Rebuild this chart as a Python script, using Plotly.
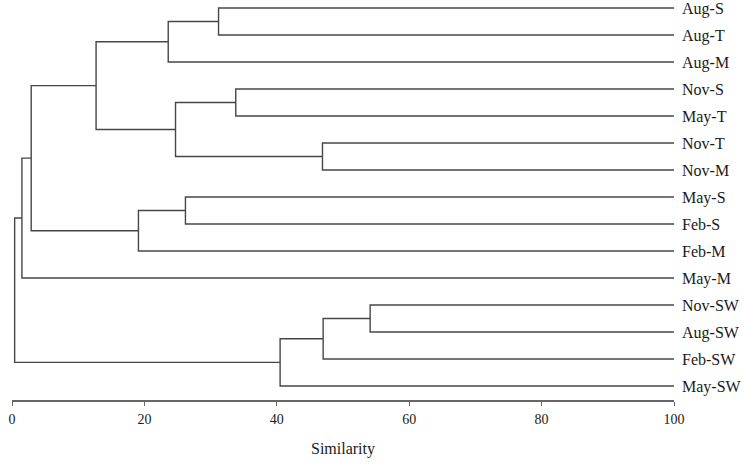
import plotly.graph_objects as go

# leaf order top to bottom
leaves = ["Aug-S", "Aug-T", "Aug-M", "Nov-S", "May-T", "Nov-T", "Nov-M",
          "May-S", "Feb-S", "Feb-M", "May-M", "Nov-SW", "Aug-SW", "Feb-SW", "May-SW"]

# merges: (left, right, similarity); clusters named C1, C2, ...
merge_left = ["Nov-SW", "Nov-T", "C1", "C3", "Nov-S", "Aug-S", "May-S",
              "C5", "C6", "C7", "C9", "C11", "C12", "C13"]
merge_right = ["Aug-SW", "Nov-M", "Feb-SW", "May-SW", "May-T", "Aug-T", "Feb-S",
               "C2", "Aug-M", "Feb-M", "C8", "C10", "May-M", "C4"]
merge_sim = [54.1, 46.9, 47.0, 40.5, 33.8, 31.2, 26.2,
             24.7, 23.6, 19.1, 12.7, 2.9, 1.5, 0.4]

x_ticks = [0, 20, 40, 60, 80, 100]

# node positions: leaves sit at similarity 100
pos = {name: (100, i) for i, name in enumerate(leaves)}
xs, ys = [], []
for k, (a, b, s) in enumerate(zip(merge_left, merge_right, merge_sim), start=1):
    xa, ya = pos[a]
    xb, yb = pos[b]
    xs += [xa, s, s, xb, None]
    ys += [ya, ya, yb, yb, None]
    pos["C%d" % k] = (s, (ya + yb) / 2)

fig = go.Figure()
fig.add_trace(go.Scatter(
    x=xs, y=ys, mode="lines",
    line=dict(color="#474747", width=1.4),
    hoverinfo="skip", showlegend=False, cliponaxis=False
))

font = "Liberation Serif, Times New Roman, serif"
fig.update_layout(
    width=745, height=464,
    margin=dict(l=12, r=71, t=0, b=64),
    paper_bgcolor="white", plot_bgcolor="white",
    font=dict(family=font, color="#1a1a1a"),
    xaxis=dict(
        range=[0, 100], tickvals=x_ticks, automargin=False,
        showgrid=False, zeroline=False,
        showline=True, linecolor="#666666", linewidth=1.5,
        ticks="outside", ticklen=4, tickcolor="#666666", tickwidth=1.3,
        ticklabelstandoff=1,
        tickfont=dict(size=14),
        title=dict(text="Similarity", font=dict(size=16), standoff=17),
    ),
    xaxis2=dict(
        range=[0, 100], tickvals=x_ticks, overlaying="x", anchor="y",
        showgrid=False, zeroline=False, showline=False, automargin=False,
        ticks="inside", ticklen=4, tickcolor="#666666", tickwidth=1.3,
        showticklabels=False,
    ),
    yaxis=dict(
        range=[14.52, -0.296], side="right", automargin=False,
        tickvals=list(range(len(leaves))), ticktext=leaves,
        showgrid=False, zeroline=False, showline=False,
        ticks="", ticklabelstandoff=7, ticklabeloverflow="allow",
        tickfont=dict(size=16),
    ),
)

# drop the page's default body margin so the figure fills the window
fig.write_html("out.html", config={"displayModeBar": False},
               post_script="document.body.style.margin = '0';")
